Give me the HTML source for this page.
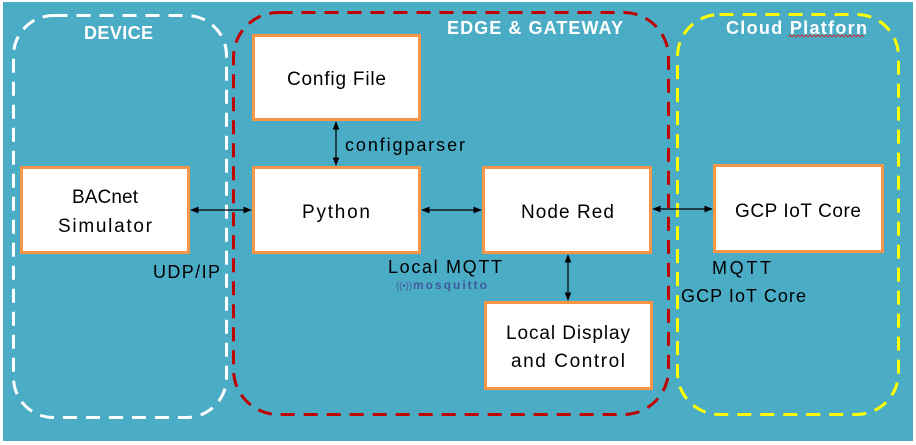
<!DOCTYPE html>
<html><head><meta charset="utf-8"><style>
html,body{margin:0;padding:0;background:#fff;}
svg{display:block;}
text{font-family:"Liberation Sans",sans-serif;}
</style></head><body>
<svg width="916" height="445" viewBox="0 0 916 445" xmlns="http://www.w3.org/2000/svg">
<defs>
<marker id="a" viewBox="0 0 10 10" refX="9" refY="5" markerWidth="7" markerHeight="7" orient="auto-start-reverse"><path d="M0,1 L10,5 L0,9 z" fill="#000"/></marker>
</defs>
<rect x="3" y="2" width="910" height="439" fill="#4BACC6"/>
<rect x="13.5" y="15.5" width="213" height="402" rx="40" fill="none" stroke="#fff" stroke-width="3" stroke-dasharray="14,9"/>
<rect x="233.5" y="12.5" width="435" height="402" rx="45" fill="none" stroke="#C00000" stroke-width="3" stroke-dasharray="14,9"/>
<rect x="677.5" y="14.5" width="221" height="400" rx="42" fill="none" stroke="#FFFF00" stroke-width="3" stroke-dasharray="14,9"/>
<g font-weight="bold" fill="#fff" font-size="18">
<text x="84" y="39" textLength="69" lengthAdjust="spacing">DEVICE</text>
<text x="447" y="34" textLength="176" lengthAdjust="spacing">EDGE &amp; GATEWAY</text>
<text x="726" y="34" textLength="141" lengthAdjust="spacing">Cloud Platforn</text>
</g>
<path d="M788,37 l2,-2 2,2 2,-2 2,2 2,-2 2,2 2,-2 2,2 2,-2 2,2 2,-2 2,2 2,-2 2,2 2,-2 2,2 2,-2 2,2 2,-2 2,2 2,-2 2,2 2,-2 2,2 2,-2 2,2 2,-2 2,2 2,-2 2,2 2,-2 2,2 2,-2 2,2 2,-2 2,2 2,-2 2,2" fill="none" stroke="#d22" stroke-width="0.8"/>
<g fill="#fff" stroke="#F79646" stroke-width="3">
<rect x="253.5" y="35.5" width="166" height="84"/>
<rect x="253.5" y="167.5" width="166" height="85"/>
<rect x="21.5" y="167.5" width="167" height="85"/>
<rect x="483.5" y="167.5" width="167" height="85"/>
<rect x="485.5" y="302.5" width="166" height="86"/>
<rect x="714.5" y="165.5" width="168" height="86"/>
</g>
<g font-size="19" fill="#000">
<text x="287" y="85" textLength="99" lengthAdjust="spacing">Config File</text>
<text x="302" y="218" textLength="68" lengthAdjust="spacing">Python</text>
<text x="72" y="203" textLength="66" lengthAdjust="spacing">BACnet</text>
<text x="58" y="232" textLength="94" lengthAdjust="spacing">Simulator</text>
<text x="521" y="218" textLength="93" lengthAdjust="spacing">Node Red</text>
<text x="506" y="339" textLength="124" lengthAdjust="spacing">Local Display</text>
<text x="511" y="367" textLength="114" lengthAdjust="spacing">and Control</text>
<text x="735" y="217" textLength="126" lengthAdjust="spacing">GCP IoT Core</text>
</g>
<g font-size="18" fill="#000">
<text x="345" y="151" textLength="120" lengthAdjust="spacing">configparser</text>
<text x="153" y="278" textLength="67" lengthAdjust="spacing">UDP/IP</text>
<text x="388" y="273" textLength="114" lengthAdjust="spacing">Local MQTT</text>
<text x="712" y="274" textLength="59" lengthAdjust="spacing">MQTT</text>
<text x="681" y="302" textLength="125" lengthAdjust="spacing">GCP IoT Core</text>
</g>
<text x="396" y="289" font-size="10" fill="#3F5A9E" textLength="16" lengthAdjust="spacingAndGlyphs">((•))</text>
<text x="413" y="289" font-size="12" font-weight="bold" fill="#3F5A9E" textLength="74" lengthAdjust="spacing">mosquitto</text>
<g stroke="#000" stroke-width="1.2" fill="none">
<line x1="336" y1="122" x2="336" y2="165" marker-start="url(#a)" marker-end="url(#a)"/>
<line x1="191" y1="210" x2="251" y2="210" marker-start="url(#a)" marker-end="url(#a)"/>
<line x1="422" y1="210" x2="481" y2="210" marker-start="url(#a)" marker-end="url(#a)"/>
<line x1="653" y1="209" x2="712" y2="209" marker-start="url(#a)" marker-end="url(#a)"/>
<line x1="568" y1="255" x2="568" y2="300" marker-start="url(#a)" marker-end="url(#a)"/>
</g>
</svg>
</body></html>
